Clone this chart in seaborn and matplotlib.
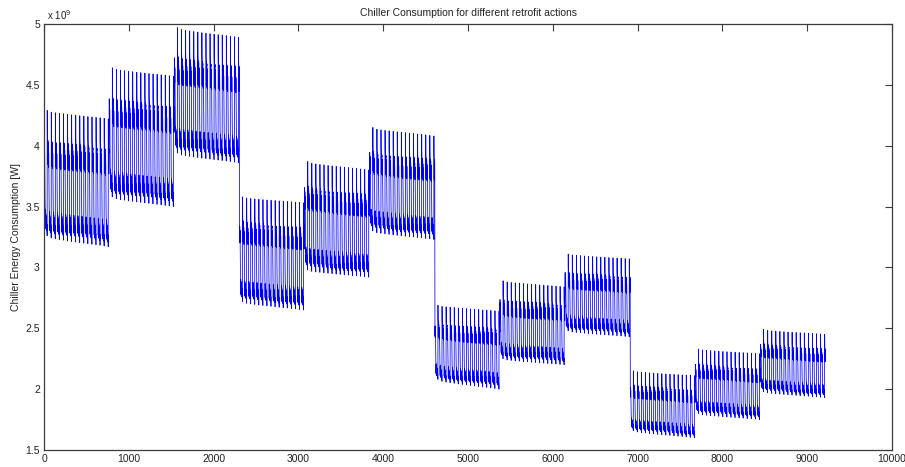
import numpy as np
import pandas as pd
import matplotlib
matplotlib.use("Agg")
import matplotlib.pyplot as plt
import seaborn as sns

# ---- data (consumption in units of 1e9 W) ----
samples_per_cycle = 48
cycles_per_action = 16

# shape of one operating cycle: 0 = cycle minimum, 1 = start-up peak
cycle_shape = [0.76, 0.74, 0.58, 0.72, 0.70, 0.56, 0.68, 0.66, 0.55, 0.55,
               0.42, 0.30,
               0.23, 0.22, 0.08, 0.21, 0.20, 0.07, 0.19, 0.18, 0.06, 0.17, 0.16, 0.06,
               0.15, 0.14, 0.05, 0.13, 0.12, 0.05, 0.11, 0.10, 0.04, 0.09, 0.08, 0.04,
               0.00, 1.00, 0.82,
               0.78, 0.77, 0.58, 0.77, 0.76, 0.57, 0.76, 0.75, 0.74]

# peak / minimum of the first and last cycle for each retrofit action
peak_first = [4.29, 4.64, 4.97, 3.58, 3.87, 4.15, 2.69, 2.89, 3.11, 2.15, 2.33, 2.49]
peak_last = [4.22, 4.57, 4.89, 3.53, 3.80, 4.08, 2.64, 2.84, 3.07, 2.11, 2.29, 2.45]
floor_first = [3.26, 3.58, 3.94, 2.72, 2.98, 3.30, 2.08, 2.25, 2.48, 1.66, 1.80, 1.98]
floor_last = [3.17, 3.50, 3.86, 2.65, 2.92, 3.23, 2.00, 2.20, 2.43, 1.60, 1.75, 1.93]

# how far each cycle has moved from the first-cycle level to the last-cycle level
cycle_progress = [0.0, 0.20, 0.28, 0.34, 0.40, 0.46, 0.52, 0.57,
                  0.62, 0.67, 0.72, 0.77, 0.82, 0.87, 0.93, 1.0]

x_ticks = [0, 1000, 2000, 3000, 4000, 5000, 6000, 7000, 8000, 9000, 10000]
y_ticks = [1.5, 2, 2.5, 3, 3.5, 4, 4.5, 5]
y_tick_labels = ["1.5", "2", "2.5", "3", "3.5", "4", "4.5", "5"]

# ---- assemble the time series ----
shape = np.asarray(cycle_shape)
values = []
for pf, pl, ff, fl in zip(peak_first, peak_last, floor_first, floor_last):
    for p in cycle_progress:
        peak = pf + (pl - pf) * p
        low = ff + (fl - ff) * p
        values.append(low + (peak - low) * shape)
values = np.concatenate(values)
df = pd.DataFrame({"sample": np.arange(1, len(values) + 1), "consumption": values})

# ---- figure ----
sns.set_style("white")
plt.rcParams["font.family"] = ["Liberation Sans Narrow", "Liberation Sans", "DejaVu Sans"]

fig = plt.figure(figsize=(9.05, 4.67), dpi=100)
ax = fig.add_axes([44 / 905, 17 / 467, 848 / 905, 426 / 467])

sns.lineplot(data=df, x="sample", y="consumption", estimator=None, sort=False,
             color="#0000ff", linewidth=0.55, ax=ax)

ax.set_xlim(0, 10000)
ax.set_ylim(1.5, 5)
ax.set_xticks(x_ticks)
ax.set_xticklabels([str(t) for t in x_ticks])
ax.set_yticks(y_ticks)
ax.set_yticklabels(y_tick_labels)

axis_color = "#3c3c3c"
for s in ax.spines.values():
    s.set_visible(True)
    s.set_color(axis_color)
    s.set_linewidth(0.9)
ax.tick_params(axis="both", which="major", direction="in", length=5, width=0.8,
               color=axis_color, labelsize=7.5, labelcolor="#222222",
               top=True, right=True, pad=3)

ax.set_xlabel("")
ax.set_ylabel("Chiller Energy Consumption [W]", fontsize=7.5, color="#222222", labelpad=3)
ax.set_title("Chiller Consumption for different retrofit actions", fontsize=7.5,
             color="#222222", pad=6)
ax.grid(False)

fig.text(47 / 905, 1 - 15 / 467, r"x 10$^{9}$", fontsize=7, color="#222222",
         ha="left", va="center")

fig.savefig("out.png", dpi=100)
